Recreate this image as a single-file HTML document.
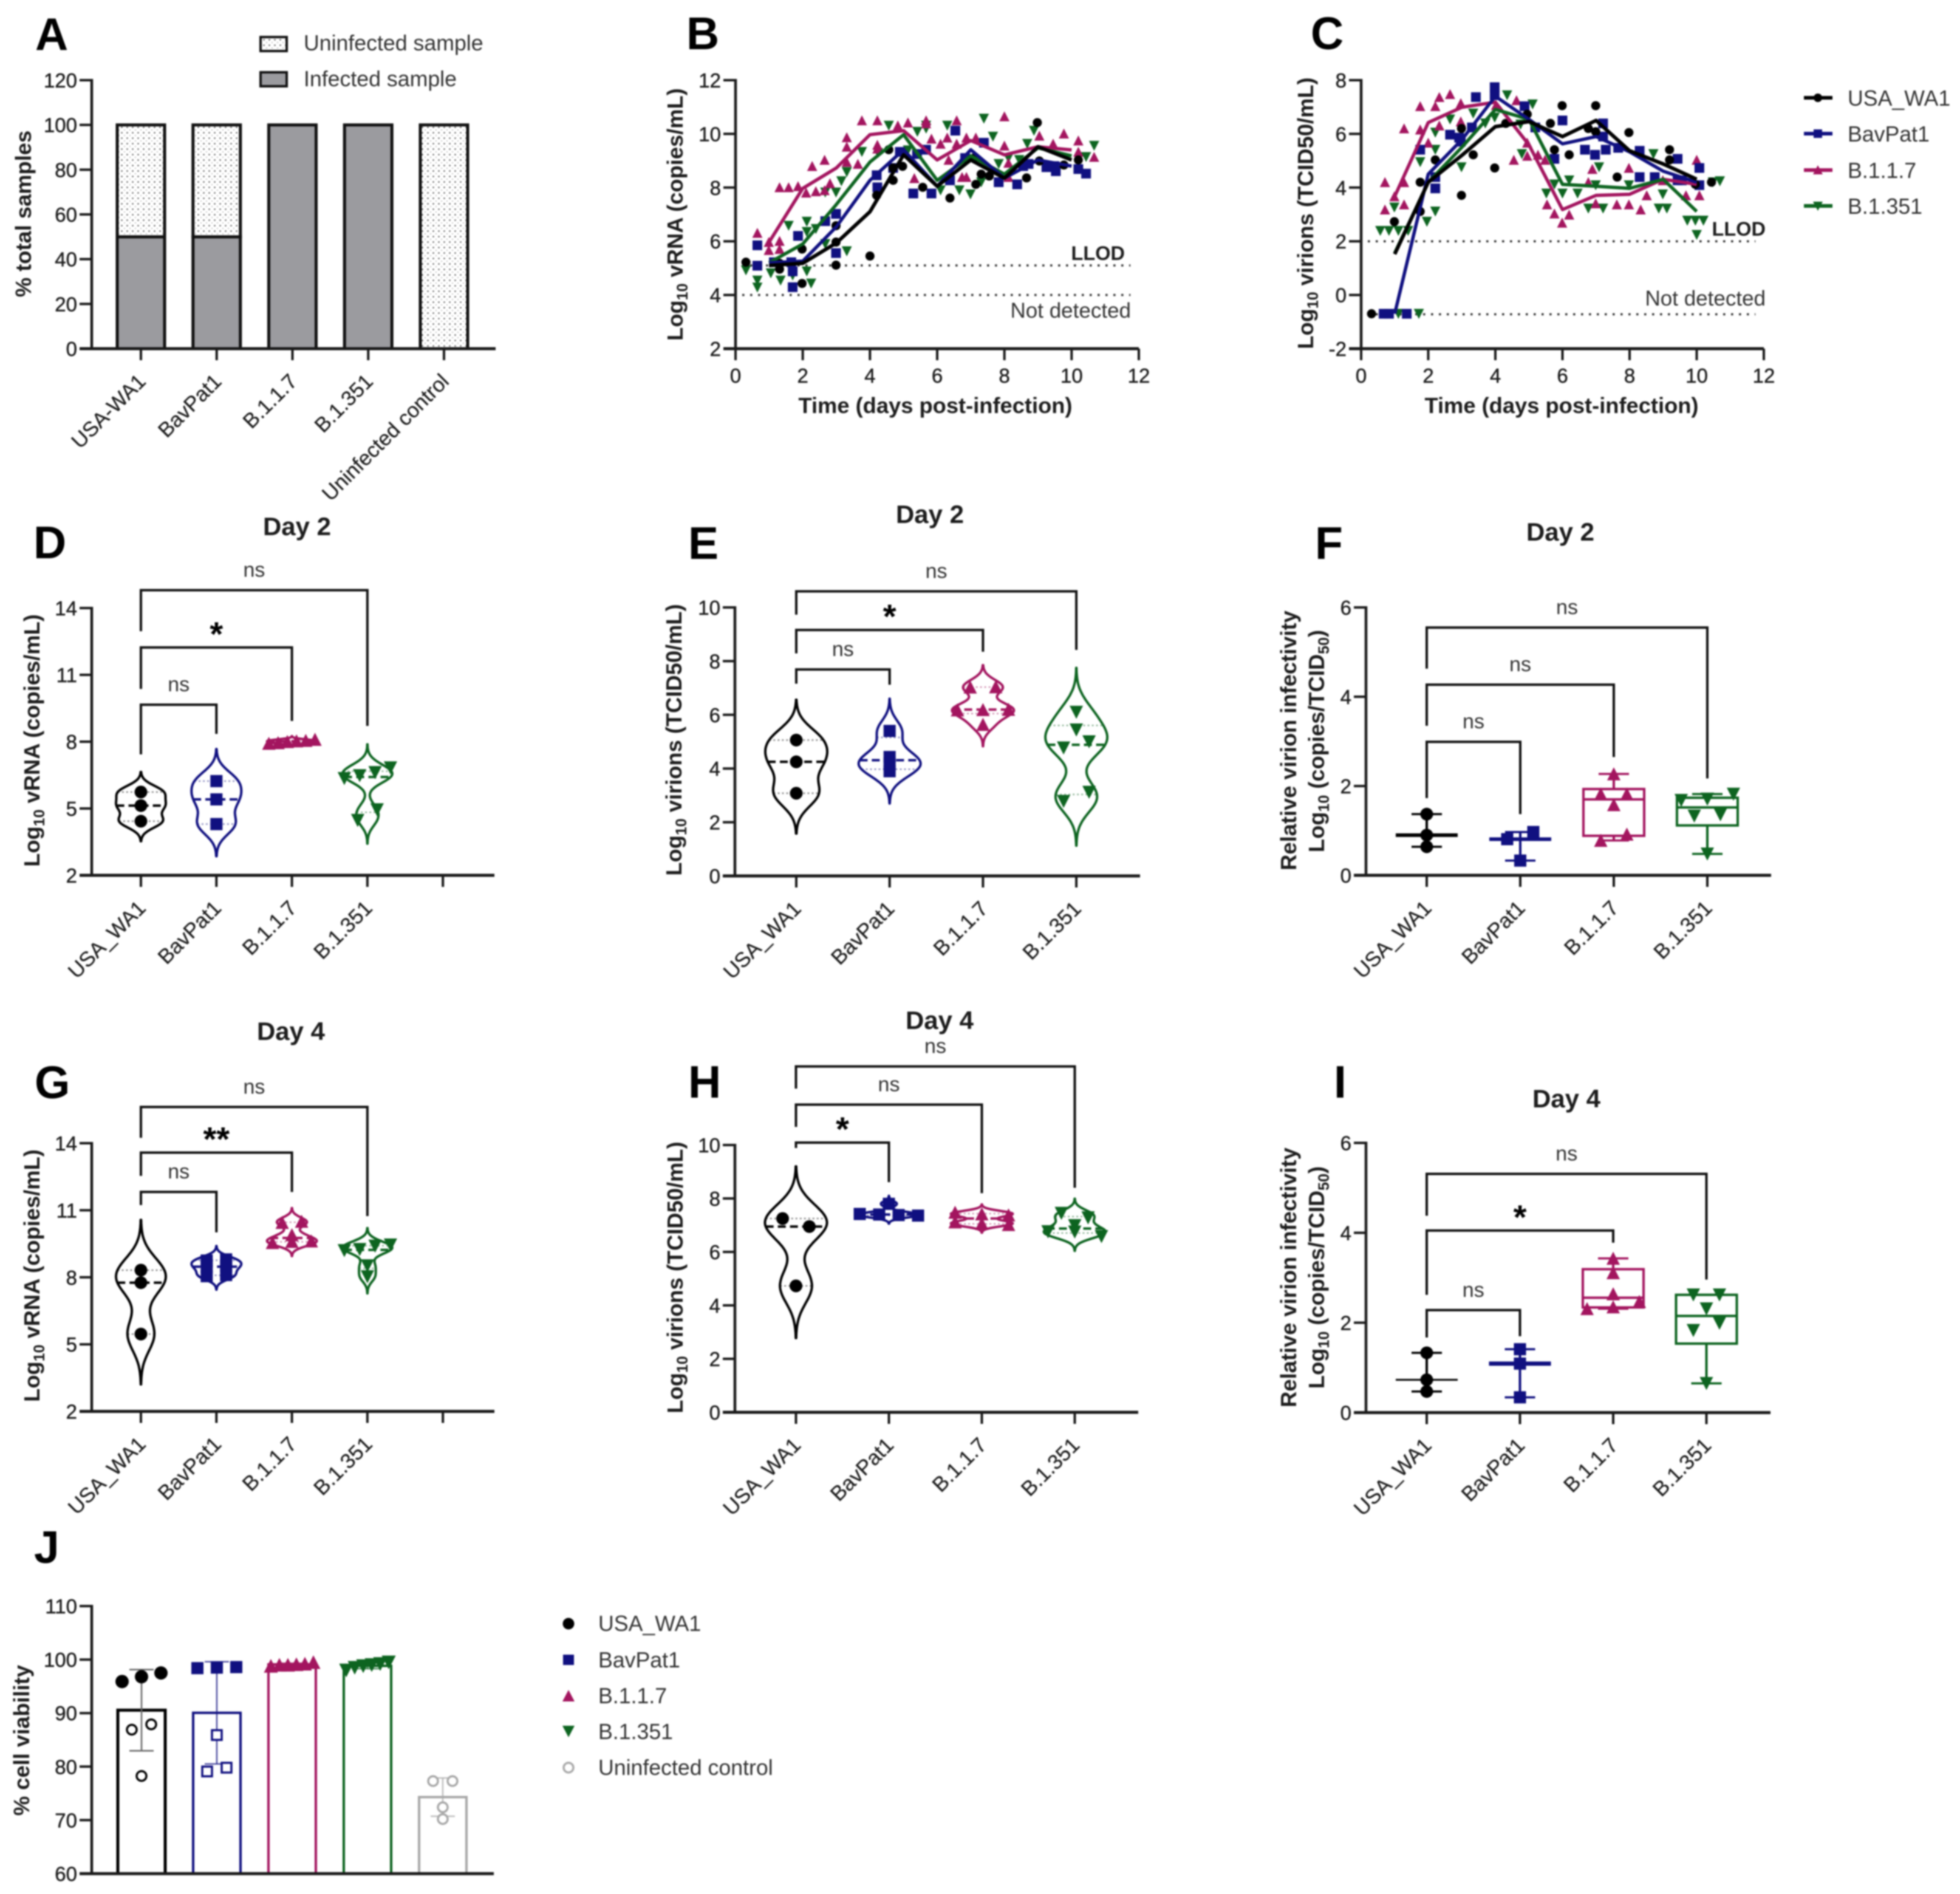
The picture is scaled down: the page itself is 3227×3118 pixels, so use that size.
<!DOCTYPE html>
<html lang="en">
<head>
<meta charset="utf-8">
<title>SARS-CoV-2 variant replication panels</title>
<style>
html,body{margin:0;padding:0;background:#fff;width:3227px;height:3118px;overflow:hidden}
svg{display:block;filter:blur(1.4px)}
text{font-family:"Liberation Sans",sans-serif;fill:#1c1c1c}
.letter{font-size:75px;font-weight:700;fill:#000}
.title{font-size:42px;font-weight:700;text-anchor:middle}
.axt{font-size:36.3px;font-weight:700;text-anchor:middle}
.leg{font-size:35.7px;fill:#333}
.tick{font-size:33px;stroke:#222;stroke-width:.5}
.cat{font-size:34.5px;text-anchor:end;stroke:#333;stroke-width:.3}
.note{font-size:35px;text-anchor:end;fill:#333}
.llod{font-size:32.5px;font-weight:700;text-anchor:end}
.ns{font-size:34px;text-anchor:middle;fill:#333}
.star{font-size:56px;font-weight:700;text-anchor:middle;fill:#000}
</style>
</head>
<body>
<svg id="figure" xmlns="http://www.w3.org/2000/svg" width="3227" height="3118" viewBox="0 0 3227 3118">
<defs>
<pattern id="dots" width="9" height="9" patternUnits="userSpaceOnUse"><rect width="9" height="9" fill="#fff"/><circle cx="2.5" cy="2.5" r="1.25" fill="#555"/><circle cx="7" cy="7" r="0.9" fill="#999"/></pattern>
</defs>
<rect width="3227" height="3118" fill="#fff"/>

<g id="panel-a">
<text class="letter" x="58" y="82">A</text>
<text class="axt" transform="translate(51,352) rotate(-90)">% total samples</text>
<rect x="429" y="61" width="43" height="23" fill="url(#dots)" stroke="#111" stroke-width="4"/>
<text class="leg" x="500" y="83">Uninfected sample</text>
<rect x="429" y="119" width="43" height="23" fill="#9b9b9f" stroke="#111" stroke-width="4"/>
<text class="leg" x="500" y="142">Infected sample</text>
</g>

<g id="panel-b">
<text class="letter" x="1130" y="81">B</text>
<text class="axt" transform="translate(1124,353) rotate(-90)">Log<tspan dy="8" font-size="25">10</tspan><tspan dy="-8"> vRNA (copies/mL)</tspan></text>
<text class="axt" x="1540" y="680">Time (days post-infection)</text>
<text class="llod" x="1852" y="428">LLOD</text>
<text class="note" x="1862" y="523">Not detected</text>
</g>

<g id="panel-c">
<text class="letter" x="2158" y="81">C</text>
<text class="axt" transform="translate(2162,351) rotate(-90)">Log<tspan dy="8" font-size="25">10</tspan><tspan dy="-8"> virions (TCID50/mL)</tspan></text>
<text class="axt" x="2571" y="680">Time (days post-infection)</text>
<text class="llod" x="2907" y="388">LLOD</text>
<text class="note" x="2907" y="503">Not detected</text>
<g>
<line x1="2970" x2="3017" y1="161" y2="161" stroke="#000" stroke-width="6"/>
<circle cx="2993" cy="161" r="7" fill="#000"/>
<text class="leg" x="3042" y="174">USA_WA1</text>
<line x1="2970" x2="3017" y1="220" y2="220" stroke="#101080" stroke-width="6"/>
<rect x="2986" y="213" width="14" height="14" fill="#101080"/>
<text class="leg" x="3042" y="233">BavPat1</text>
<line x1="2970" x2="3017" y1="280" y2="280" stroke="#a3155f" stroke-width="6"/>
<polygon points="2993,272 3001,287 2985,287" fill="#a3155f"/>
<text class="leg" x="3042" y="293">B.1.1.7</text>
<line x1="2970" x2="3017" y1="339" y2="339" stroke="#0d6420" stroke-width="6"/>
<polygon points="2993,347 3001,332 2985,332" fill="#0d6420"/>
<text class="leg" x="3042" y="352">B.1.351</text>
</g>
</g>

<g id="panel-d">
<text class="letter" x="55" y="919">D</text>
<text class="title" x="489" y="881">Day 2</text>
<text class="axt" transform="translate(65,1219) rotate(-90)">Log<tspan dy="8" font-size="25">10</tspan><tspan dy="-8"> vRNA (copies/mL)</tspan></text>
</g>
<g id="panel-e">
<text class="letter" x="1133" y="920">E</text>
<text class="title" x="1531" y="861">Day 2</text>
<text class="axt" transform="translate(1122,1218) rotate(-90)">Log<tspan dy="8" font-size="25">10</tspan><tspan dy="-8"> virions (TCID50/mL)</tspan></text>
</g>
<g id="panel-f">
<text class="letter" x="2165" y="920">F</text>
<text class="title" x="2569" y="890">Day 2</text>
<text class="axt" transform="translate(2134,1219) rotate(-90)">Relative virion infectivity</text>
<text class="axt" transform="translate(2180,1220) rotate(-90)">Log<tspan dy="8" font-size="25">10</tspan><tspan dy="-8"> (copies/TCID</tspan><tspan dy="8" font-size="25">50</tspan><tspan dy="-8">)</tspan></text>
</g>
<g id="panel-g">
<text class="letter" x="57" y="1808">G</text>
<text class="title" x="479" y="1712">Day 4</text>
<text class="axt" transform="translate(65,2100) rotate(-90)">Log<tspan dy="8" font-size="25">10</tspan><tspan dy="-8"> vRNA (copies/mL)</tspan></text>
</g>
<g id="panel-h">
<text class="letter" x="1133" y="1807">H</text>
<text class="title" x="1547" y="1694">Day 4</text>
<text class="axt" transform="translate(1124,2103) rotate(-90)">Log<tspan dy="8" font-size="25">10</tspan><tspan dy="-8"> virions (TCID50/mL)</tspan></text>
</g>
<g id="panel-i">
<text class="letter" x="2196" y="1807">I</text>
<text class="title" x="2579" y="1823">Day 4</text>
<text class="axt" transform="translate(2134,2103) rotate(-90)">Relative virion infectivity</text>
<text class="axt" transform="translate(2180,2103) rotate(-90)">Log<tspan dy="8" font-size="25">10</tspan><tspan dy="-8"> (copies/TCID</tspan><tspan dy="8" font-size="25">50</tspan><tspan dy="-8">)</tspan></text>
</g>
<g id="panel-j">
<text class="letter" x="56" y="2573">J</text>
<text class="axt" transform="translate(48,2865) rotate(-90)">% cell viability</text>
<g>
<circle cx="936" cy="2673" r="9.5" fill="#000"/>
<text class="leg" x="985" y="2685">USA_WA1</text>
<rect x="927" y="2724" width="18" height="17" fill="#101080"/>
<text class="leg" x="985" y="2745">BavPat1</text>
<polygon points="936,2782 946,2801 926,2801" fill="#a3155f"/>
<text class="leg" x="985" y="2804">B.1.1.7</text>
<polygon points="936,2860 946,2841 926,2841" fill="#0d6420"/>
<text class="leg" x="985" y="2863">B.1.351</text>
<circle cx="936" cy="2910" r="8" fill="#fff" stroke="#aaa" stroke-width="3.5"/>
<text class="leg" x="985" y="2922">Uninfected control</text>
</g>
</g>
</svg>

<script>
/* ---------- PANEL A DATA ---------- */
const aCategories = ['USA-WA1','BavPat1','B.1.1.7','B.1.351','Uninfected control'];
const aInfected = [50,50,100,100,0];
const aUninfected = [50,50,0,0,100];
const aYTicks = [0,20,40,60,80,100,120];

/* ---------- PANEL B DATA ([day, log10 value]) ---------- */
const timeDays = [1,2,3,4,5,6,7,8,9,10];
const timeTicks = [0,2,4,6,8,10,12];
const bYTicks = [2,4,6,8,10,12];
const bLlod = 5.1;
const bNotDetected = 4;
const bUsaMean = [5.1,5.18,5.94,7.1,9.22,8.05,9.03,8.35,9.52,9.03];
const bBavMean = [5.2,5.26,6.54,8.27,9.41,8.05,9.41,8.35,9.03,8.8];
const bB117Mean = [5.97,7.97,8.73,9.97,10.12,9.03,9.75,9.22,9.52,9.4];
const bB1351Mean = [5.2,5.9,7.37,8.95,9.97,8.27,9.18,8.5,9.48,9.18];
const bUsaPts = [[.31,5.22],[1.31,5.18],[1.98,5.71],[1.98,4.43],[1.31,4.96],[2.99,5.11],[2.99,5.97],[2.99,6.58],[4,5.45],[4.2,7.71],[4.69,8.27],[4.69,8.73],[4.97,8.79],[4.56,9.41],[5.57,8.01],[6.38,7.61],[7.1,9.1],[7.15,8.12],[7.31,8.5],[7.55,8.43],[8.66,8.36],[8.98,10.42],[9.04,8.99],[9.77,8.84],[10.2,9.03]];
const bBavPts = [[.65,5.09],[.65,5.85],[1.14,5.22],[1.86,6.2],[1.7,4.29],[1.7,4.88],[2.67,6.75],[2.99,7.02],[2.99,5.56],[4.2,8.46],[4.22,8.01],[4.69,8.73],[4.89,9.33],[5.29,7.78],[5.4,9.25],[5.67,9.41],[5.83,7.78],[6.38,8.27],[6.54,10.12],[6.83,9.1],[7.39,9.67],[7.83,8.2],[8.38,8.12],[8.56,8.8],[8.72,8.88],[9.25,8.76],[9.49,8.8],[9.53,8.61],[10.2,8.69],[10.43,8.52],[1.66,5.22]];
const bB117Pts = [[.65,6.31],[.99,5.97],[.99,5.67],[1.31,6.01],[1.31,5.71],[1.31,8.01],[1.58,8.01],[1.86,8.05],[2.1,7.81],[2.39,7.86],[2.65,7.9],[2.81,8.16],[2.28,8.8],[2.65,9.03],[3.31,9.87],[3.31,9.52],[3.31,8.95],[3.64,8.88],[3.76,10.5],[4.22,10.5],[4.22,9.59],[5.13,10.42],[4.83,10.31],[5.67,10.5],[5.67,10.39],[5.32,8.35],[5.83,9.82],[6.1,9.63],[6.3,9.86],[6.58,10.5],[6.58,9.63],[6.74,8.39],[6.87,8.39],[6.87,9.86],[7.15,9.86],[8,10.65],[8,9.56],[8.12,8.92],[9.04,9.93],[9.45,9.63],[9.77,10.01],[10.2,9.75],[10.2,9.33],[10.67,9.14],[8.12,8.39],[4.22,9.45],[6.34,9.03]];
const bB1351Pts = [[.31,4.92],[.65,4.54],[.65,4.28],[1.05,4.81],[1.34,4.54],[1.58,6.58],[1.7,4.73],[2.12,6.73],[2.12,6.35],[2.12,4.88],[2.39,6.46],[2.25,4.43],[2.67,5.9],[3.31,5.63],[2.67,7.82],[2.99,7.82],[3.15,8.24],[3.31,8.58],[3.76,9.33],[4.24,9.29],[4.56,10.31],[5.41,10.08],[5.67,10.2],[6.3,10.31],[7.39,10.57],[7.66,9.9],[6.1,7.9],[6.66,7.9],[6.99,7.75],[7.31,8.2],[7.83,8.88],[8.44,9.03],[8.68,9.63],[8.88,10.12],[10.67,9.56],[10.43,9.14],[8.12,9.1],[5.13,9.39],[5.67,10.31]];

/* ---------- PANEL C DATA ---------- */
const cYTicks = [-2,0,2,4,6,8];
const cLlod = 2;
const cNotDetected = -0.72;
const cUsaMean = [1.52,4.2,5.2,6.27,6.46,5.9,6.5,5.37,4.88,4.31];
const cBavMean = [-0.7,4.5,5.78,7.4,6.54,5.63,5.9,5.33,4.61,4.2];
const cB117Mean = [3.67,6.42,6.99,7.18,5.59,3.18,3.71,3.75,4.31,4.12];
const cB1351Mean = [1.56,4.2,5.5,6.91,6.54,4.12,4.05,3.97,4.31,3.11];
const cUsaPts = [[.31,-.7],[.99,2.73],[1.76,4.2],[1.76,3.11],[2.21,5.03],[2.99,3.71],[2.99,6.2],[3.34,5.22],[3.98,4.73],[4.31,6.39],[4.95,6.73],[5.64,6.39],[5.76,5.41],[5.99,7.05],[6.2,5.22],[6.77,6.2],[6.99,7.05],[6.99,6.08],[7.63,4.39],[7.98,6.05],[9.19,5.41],[9.19,5.03],[9.96,4.12],[10.44,4.2]];
const cBavPts = [[.67,-.7],[.83,-.7],[1.36,-.7],[1.76,5.41],[2.21,4.39],[2.21,3.97],[2.65,5.97],[2.92,5.86],[2.97,5.71],[3.3,6.24],[3.42,7.37],[3.98,7.74],[3.98,7.44],[4.87,7.03],[5.19,6.24],[5.76,5.07],[6,6.5],[6.67,5.41],[6.97,5.22],[7.21,6.39],[7.21,5.9],[7.29,5.41],[7.66,5.48],[8.3,5.37],[8.3,4.39],[8.75,4.39],[9.43,5.07],[9.43,4.27],[9.56,4.27],[10.08,4.73],[10.08,4.09]];
const cB117Pts = [[.71,4.2],[.99,3.67],[1.28,6.2],[1.28,4.2],[.71,3.18],[1.28,3.37],[1.76,7.03],[1.76,6.16],[2.21,7.03],[2.33,7.37],[2.65,7.48],[2.33,6.31],[2.97,7.14],[2.97,6.46],[2,5.67],[4.55,5.03],[4.95,5.67],[4.95,5.18],[5.27,5.22],[5.48,5.03],[5.54,3.37],[5.76,3.03],[5.99,2.69],[6.2,2.99],[6.77,4.2],[6.89,4.69],[6.99,3.41],[7.62,3.37],[7.98,4.73],[7.98,3.37],[8.33,3.18],[8.51,3.71],[9.68,3.71],[10,5.03],[10.08,3.71],[4.02,7.07],[4.63,7.25],[8.99,4.27]];
const cB1351Pts = [[.57,2.39],[.83,2.39],[1.11,2.39],[.99,3.26],[1.76,4.95],[1.96,2.73],[2.21,6.05],[2.21,5.41],[2.21,3.11],[1.4,2.39],[2.65,6.54],[2.99,4.76],[3.34,6.76],[3.7,6.39],[3.98,6.61],[4.35,7.44],[5.11,7.1],[4.75,6.35],[4.79,5.25],[5.52,3.78],[5.76,4.12],[6,3.78],[6.2,4.27],[6.45,3.78],[6.77,3.22],[6.99,4.09],[7.09,4.76],[7.21,3.22],[7.98,4.09],[8.71,5.25],[8.99,3.75],[8.87,3.22],[9.11,3.22],[9.72,2.77],[9.96,2.77],[10.2,2.77],[10,2.24],[10.48,4.2],[10.69,4.24],[1.11,-.7],[1.72,-.7]];

/* ---------- VIOLIN PANELS ---------- */
const strainCategories = ['USA_WA1','BavPat1','B.1.1.7','B.1.351'];
const dYTicks = [2,5,8,11,14];
const dUsa = [5.74,5.13,4.43];
const dBav = [6.23,5.41,4.3];
const dB117 = [8.1,8.05,7.95,8.0,7.92,8.03];
const dB1351 = [6.83,6.62,6.48,6.35,4.95,4.47];
const dBandwidth = [.3,.48,.05,.35];
const dSwarmTol = [.2,.2,.5,.5];
const dBrackets = [[0,3,14.8,12.96,8.71,'ns'],[0,2,12.23,10.37,8.93,'*'],[0,1,9.66,7.43,8.35,'ns']];

const eYTicks = [0,2,4,6,8,10];
const eUsa = [5.06,4.25,3.08];
const eBav = [5.4,4.43,4.19,3.9];
const eB117 = [7.04,7.03,6.19,6.2,6.18,5.64];
const eB1351 = [6.1,5.44,5.0,4.77,3.12,2.78];
const eBandwidth = [.5,.4,.27,.55];
const eSwarmTol = [.3,.1,.3,.35];
const eBrackets = [[0,3,10.6,9.73,8.42,'ns'],[0,2,9.16,8.29,8.35,'*'],[0,1,7.69,7.16,7.12,'ns']];

const gYTicks = [2,5,8,11,14];
const gUsa = [8.32,7.76,5.46];
const gBav = [8.8,8.75,8.5,8.45,8.1,8.05];
const gB117 = [10.5,10.45,9.9,9.62,9.6,9.55];
const gB1351 = [9.45,9.4,9.25,9.2,8.52,8.03];
const gBandwidth = [.75,.2,.2,.25];
const gSwarmTol = [.2,.1,.1,.3];
const gBrackets = [[0,3,15.62,14.24,10.74,'ns'],[0,2,13.58,12.54,11.82,'**'],[0,1,11.82,11.23,10.01,'ns']];

const hYTicks = [0,2,4,6,8,10];
const hUsa = [7.25,6.95,4.73];
const hBav = [7.8,7.42,7.4,7.38,7.36];
const hB117 = [7.48,7.42,7.38,7.12,7.06,7.02];
const hB1351 = [7.45,7.28,6.99,6.76,6.75,6.58];
const hBandwidth = [.65,.1,.1,.18];
const hSwarmTol = [.35,.1,.15,.2];
const hBrackets = [[0,3,12.94,12.11,8.4,'ns'],[0,2,11.51,10.68,8.2,'ns'],[0,1,10.09,9.89,8.61,'*']];

/* ---------- BOX PANELS ---------- */
const fYTicks = [0,2,4,6];
const fUsa = [1.37,.9,.64];
const fBav = [.97,.81,.33];
const fB117 = [2.27,1.82,1.82,1.58,.92,.78];
const fB1351 = [1.82,1.71,1.68,1.36,1.33,.48];
const fBrackets = [[0,3,5.55,4.63,2.17,'ns'],[0,2,4.27,3.35,2.65,'ns'],[0,1,2.99,1.73,1.37,'ns']];

const iYTicks = [0,2,4,6];
const iUsa = [1.33,.73,.47];
const iBav = [1.41,1.09,.34];
const iB117 = [3.43,3.11,2.64,2.47,2.35,2.31];
const iB1351 = [2.62,2.62,2.31,1.99,1.83,.65];
const iBrackets = [[0,3,5.31,4.38,2.96,'ns'],[0,2,4.05,2.62,3.78,'*'],[0,1,2.28,1.67,1.7,'ns']];

/* ---------- PANEL J DATA ---------- */
const jYTicks = [60,70,80,90,100,110];
const jUsa = [96.8,95.9,97.5,87.9,86.9,78.25];
const jBav = [98.6,98.5,98.4,85.9,79.1,79.8];
const jB117 = [99.2,99.5,99,98.8,99,99.1];
const jB1351 = [99.5,99.2,98.5,98,99,98.8];
const jUninfected = [77.3,77.3,72.4,70.2];

/* ---------- STYLES & LAYOUT ---------- */
const strainStyle = [
  {color:'#000000',shape:'circle'},
  {color:'#101080',shape:'square'},
  {color:'#a3155f',shape:'up'},
  {color:'#0d6420',shape:'down'},
  {color:'#a8a8a8',shape:'circle'}
];
const pA = {id:'panel-a',x0:151,xEnd:816,py0:574,py1:132,vmin:0,vmax:120,cat0:232,catStep:124.75};
const pB = {id:'panel-b',x0:1211,xEnd:1875,py0:574,py1:132,vmin:2,vmax:12,dmin:0,dmax:12};
const pC = {id:'panel-c',x0:2241,xEnd:2904,py0:574,py1:132,vmin:-2,vmax:8,dmin:0,dmax:12};
const pD = {id:'panel-d',x0:151,xEnd:814,py0:1441,py1:1001,vmin:2,vmax:14,cat0:232,catStep:124.3,half:41,base:32,dir:1};
const pE = {id:'panel-e',x0:1210,xEnd:1877,py0:1442,py1:1000,vmin:0,vmax:10,cat0:1311,catStep:153.7,half:51,base:42,dir:1};
const pF = {id:'panel-f',x0:2249,xEnd:2916,py0:1441,py1:1000,vmin:0,vmax:6,cat0:2349,catStep:154,half:50,base:43,dir:1};
const pG = {id:'panel-g',x0:151,xEnd:814,py0:2323.5,py1:1882,vmin:2,vmax:14,cat0:232,catStep:124.3,half:41,base:32,dir:1};
const pH = {id:'panel-h',x0:1210,xEnd:1874,py0:2325,py1:1885,vmin:0,vmax:10,cat0:1310.5,catStep:153,half:51,base:44,dir:-1};
const pI = {id:'panel-i',x0:2249,xEnd:2915,py0:2325.5,py1:1881.5,vmin:0,vmax:6,cat0:2349,catStep:153.5,half:50,base:43,dir:1};
const pJ = {id:'panel-j',x0:151,xEnd:813,py0:3084.5,py1:2644,vmin:60,vmax:110,cat0:233,catStep:124,half:41,base:32,dir:1};

const NS = 'http://www.w3.org/2000/svg';
const axisColor = '#1a1a1a';

function node(parent, tag, attrs, txt){
  const e = document.createElementNS(NS, tag);
  for (const k in attrs) e.setAttribute(k, attrs[k]);
  if (txt !== undefined) e.textContent = txt;
  parent.appendChild(e);
  return e;
}
function yScale(p){ return v => p.py0 - (v - p.vmin) * (p.py0 - p.py1) / (p.vmax - p.vmin); }
function dayScale(p){ return d => p.x0 + (d - p.dmin) * (p.xEnd - p.x0) / (p.dmax - p.dmin); }
function catX(p, i){ return p.cat0 + i * p.catStep; }
function panelGroup(p){ return document.getElementById(p.id); }

function drawYAxis(p, ticks){
  const g = panelGroup(p), y = yScale(p);
  const yLine = node(g,'line',{x1:p.x0,x2:p.x0,y1:p.py1-2,y2:p.py0,stroke:axisColor,'stroke-width':4.5});
  
  
  const xLine = node(g,'line',{x1:p.x0-20,x2:p.xEnd,y1:p.py0,y2:p.py0,stroke:axisColor,'stroke-width':5});
  
  
  ticks.forEach(t => {
    const tk = node(g,'line',{x1:p.x0-20,x2:p.x0,y1:y(t),y2:y(t),stroke:axisColor,'stroke-width':4});
    
    
    const lb = node(g,'text',{class:'tick',x:p.x0-24,y:y(t)+12,'text-anchor':'end'},String(t));
    
    
  });
}
function drawCatAxis(p, labels, tickCount){
  const g = panelGroup(p);
  for (let i = 0; i < tickCount; i++){
    const x = catX(p,i);
    const tk = node(g,'line',{x1:x,x2:x,y1:p.py0,y2:p.py0+19,stroke:axisColor,'stroke-width':4});
    
    
    if (i < labels.length){
      const lb = node(g,'text',{class:'cat',transform:`translate(${x+10},${p.py0+56}) rotate(-45)`},labels[i]);
      
      
    }
  }
}
function drawDayAxis(p, ticks){
  const g = panelGroup(p), x = dayScale(p);
  ticks.forEach(t => {
    const tk = node(g,'line',{x1:x(t),x2:x(t),y1:p.py0,y2:p.py0+19,stroke:axisColor,'stroke-width':4});
    
    
    const lb = node(g,'text',{class:'tick',x:x(t),y:p.py0+56,'text-anchor':'middle'},String(t));
    
    
  });
}
function marker(parent, shape, cx, cy, s, fill, stroke, sw){
  const paint = {fill:fill, stroke:stroke||'none', 'stroke-width':sw||0};
  const h = s/2;
  if (shape === 'circle') return node(parent,'circle',Object.assign({cx:cx,cy:cy,r:h},paint));
  if (shape === 'square') return node(parent,'rect',Object.assign({x:cx-h,y:cy-h,width:s,height:s},paint));
  if (shape === 'up') return node(parent,'polygon',Object.assign({points:`${cx},${cy-h*1.05} ${cx+h*1.05},${cy+h} ${cx-h*1.05},${cy+h}`},paint));
  return node(parent,'polygon',Object.assign({points:`${cx},${cy+h*1.05} ${cx+h*1.05},${cy-h} ${cx-h*1.05},${cy-h}`},paint));
}
function swarmOffsets(values, tol, base, half, dir){
  const order = values.map((v,i)=>[v,i]).sort((a,b)=>a[0]-b[0]);
  const out = new Array(values.length).fill(0);
  let k = 0;
  while (k < order.length){
    let m = k + 1;
    while (m < order.length && order[m][0] - order[k][0] <= tol) m++;
    const n = m - k;
    const step = n > 1 ? Math.min(base, 2*(half-3)/(n-1)) : 0;
    for (let j = k; j < m; j++) out[order[j][1]] = dir * (j - k - (n-1)/2) * step;
    k = m;
  }
  return out;
}
function quantile(values, q){
  const s = values.slice().sort((a,b)=>a-b);
  const pos = (s.length + 1) * q;
  const i = Math.floor(pos);
  const lo = s[Math.max(i-1,0)], hi = s[Math.min(i,s.length-1)];
  return lo + (hi - lo) * (pos - i);
}
function density(values, h, v){
  return values.reduce((sum,p)=>sum + Math.exp(-0.5*((v-p)/h)*((v-p)/h)),0);
}
function drawBrackets(p, list){
  const g = panelGroup(p), y = yScale(p);
  list.forEach(b => {
    const xl = catX(p,b[0]), xr = catX(p,b[1]);
    const path = node(g,'path',{d:`M${xl} ${y(b[3])}V${y(b[2])}H${xr}V${y(b[4])}`,fill:'none',stroke:'#111','stroke-width':4});
    
    
    const isStar = b[5] !== 'ns';
    const lb = node(g,'text',{class:isStar?'star':'ns',x:(xl+xr)/2,y:y(b[2])+(isStar?-3:-22)},b[5]);
    
    
  });
}
function drawViolin(p, idx, values, bw, tol){
  const g = panelGroup(p), y = yScale(p), cx = catX(p,idx), st = strainStyle[idx];
  const lo = Math.min(...values) - 3*bw, hi = Math.max(...values) + 3*bw;
  const steps = 90;
  let peak = 0;
  for (let i = 0; i <= steps; i++) peak = Math.max(peak, density(values,bw,lo+(hi-lo)*i/steps));
  const width = v => density(values,bw,v)/peak*p.half;
  let d = '';
  for (let i = 0; i <= steps; i++){ const v = lo+(hi-lo)*i/steps; d += (i?'L':'M')+(cx-width(v)).toFixed(1)+' '+y(v).toFixed(1); }
  for (let i = steps; i >= 0; i--){ const v = lo+(hi-lo)*i/steps; d += 'L'+(cx+width(v)).toFixed(1)+' '+y(v).toFixed(1); }
  const outline = node(g,'path',{d:d+'Z',fill:'#fff',stroke:st.color,'stroke-width':4,'stroke-linejoin':'round'});
  
  
  [0.25,0.75].forEach(q => {
    const v = quantile(values,q), w = width(v);
    const ql = node(g,'line',{x1:cx-w,x2:cx+w,y1:y(v),y2:y(v),stroke:st.color,'stroke-width':2.5,'stroke-dasharray':'3 4',opacity:.45});
    
    
  });
  const med = quantile(values,0.5), mw = width(med);
  const ml = node(g,'line',{x1:cx-mw,x2:cx+mw,y1:y(med),y2:y(med),stroke:st.color,'stroke-width':4,'stroke-dasharray':'13 7'});
  
  
  const off = swarmOffsets(values,tol,p.base,p.half,p.dir);
  values.forEach((v,i) => {
    const dot = marker(g,st.shape,cx+off[i],y(v),st.shape==='square'?20:21,st.color);
    
    
  });
}
function drawBox(p, idx, values, tol, medianWidth){
  const g = panelGroup(p), y = yScale(p), cx = catX(p,idx), st = strainStyle[idx];
  const lo = Math.min(...values), hi = Math.max(...values);
  const q1 = quantile(values,.25), q2 = quantile(values,.5), q3 = quantile(values,.75);
  const wh = node(g,'line',{x1:cx,x2:cx,y1:y(hi),y2:y(lo),stroke:st.color,'stroke-width':4});
  
  
  [lo,hi].forEach(v => {
    const cap = node(g,'line',{x1:cx-25,x2:cx+25,y1:y(v),y2:y(v),stroke:st.color,'stroke-width':3.5});
    
    
  });
  if (values.length > 3){
    const box = node(g,'rect',{x:cx-50,y:y(q3),width:100,height:y(q1)-y(q3),fill:'#fff',stroke:st.color,'stroke-width':4});
    
    
  }
  const ml = node(g,'line',{x1:cx-51,x2:cx+51,y1:y(q2),y2:y(q2),stroke:st.color,'stroke-width':medianWidth});
  
  
  const off = swarmOffsets(values,tol,p.base,p.half,p.dir);
  values.forEach((v,i) => {
    const dot = marker(g,st.shape,cx+off[i],y(v),st.shape==='square'?20:21,st.color);
    
    
  });
}
function drawTimeCourse(p, pointSets, meanSets, llod, notDetected){
  const g = panelGroup(p), x = dayScale(p), y = yScale(p);
  [llod,notDetected].forEach(v => {
    const dl = node(g,'line',{x1:x(0.2),x2:x(11.75),y1:y(v),y2:y(v),stroke:'#333','stroke-width':3.5,'stroke-dasharray':'3.5 9.5'});
    
    
  });
  [3,2,1,0].forEach(s => {
    const st = strainStyle[s];
    pointSets[s].forEach(pt => {
      const dot = marker(g,st.shape,x(pt[0]),y(pt[1]),st.shape==='circle'?15:16,st.color);
      
      
    });
  });
  [2,3,1,0].forEach(s => {
    const st = strainStyle[s];
    const pts = meanSets[s].map((v,i)=>x(timeDays[i]).toFixed(1)+','+y(v).toFixed(1)).join(' ');
    const ln = node(g,'polyline',{points:pts,fill:'none',stroke:st.color,'stroke-width':s===0?6:5.5,'stroke-linejoin':'round'});
    
    
  });
}
function drawStacked(p){
  const g = panelGroup(p), y = yScale(p);
  aCategories.forEach((c,i) => {
    const cx = catX(p,i);
    if (aInfected[i] > 0){
      const r = node(g,'rect',{x:cx-39,y:y(aInfected[i]),width:78,height:y(0)-y(aInfected[i]),fill:'#9b9b9f',stroke:'#111','stroke-width':5});
      
      
    }
    if (aUninfected[i] > 0){
      const top = aInfected[i] + aUninfected[i];
      const r = node(g,'rect',{x:cx-39,y:y(top),width:78,height:y(aInfected[i])-y(top),fill:'url(#dots)',stroke:'#111','stroke-width':5});
      
      
    }
  });
}
function drawViability(p, groups){
  const g = panelGroup(p), y = yScale(p);
  groups.forEach((vals,i) => {
    const st = strainStyle[i], cx = catX(p,i);
    const mean = vals.reduce((a,b)=>a+b,0)/vals.length;
    const sd = Math.sqrt(vals.reduce((a,b)=>a+(b-mean)*(b-mean),0)/(vals.length-1));
    const bar = node(g,'path',{d:`M${cx-39} ${y(p.vmin)}V${y(mean)}H${cx+39}V${y(p.vmin)}`,fill:'#fff',stroke:st.color,'stroke-width':i===0?5:4});
    
    
    const capTop = Math.min(mean+sd, 110), capBot = mean-sd;
    const err = node(g,'line',{x1:cx,x2:cx,y1:y(capTop),y2:y(capBot),stroke:i===0?'#666':st.color,'stroke-width':2.5,opacity:i===0?1:.7});
    
    
    [capTop,capBot].forEach(v => {
      const cap = node(g,'line',{x1:cx-20,x2:cx+20,y1:y(v),y2:y(v),stroke:i===0?'#666':st.color,'stroke-width':2.5,opacity:i===0?1:.7});
      
      
    });
    const spacing = vals.length > 3 && sd < 2 ? 14 : p.base;
    const off = swarmOffsets(vals,2,spacing,p.half,p.dir);
    vals.forEach((v,k) => {
      const open = mean - v > 1.2 || i === 4;
      const s = st.shape==='square' ? (open?16:20) : (open?16:22);
      const dot = open ? marker(g,st.shape,cx+off[k],y(v),s,'#fff',st.color,3.5)
                       : marker(g,st.shape,cx+off[k],y(v),s,st.color);
      
      
    });
  });
}

/* ---------- RENDER ---------- */
drawStacked(pA);
drawYAxis(pA,aYTicks);
drawCatAxis(pA,aCategories,5);

drawTimeCourse(pB,[bUsaPts,bBavPts,bB117Pts,bB1351Pts],[bUsaMean,bBavMean,bB117Mean,bB1351Mean],bLlod,bNotDetected);
drawYAxis(pB,bYTicks);
drawDayAxis(pB,timeTicks);

drawTimeCourse(pC,[cUsaPts,cBavPts,cB117Pts,cB1351Pts],[cUsaMean,cBavMean,cB117Mean,cB1351Mean],cLlod,cNotDetected);
drawYAxis(pC,cYTicks);
drawDayAxis(pC,timeTicks);

[dUsa,dBav,dB117,dB1351].forEach((v,i)=>drawViolin(pD,i,v,dBandwidth[i],dSwarmTol[i]));
drawYAxis(pD,dYTicks);
drawCatAxis(pD,strainCategories,5);
drawBrackets(pD,dBrackets);

[eUsa,eBav,eB117,eB1351].forEach((v,i)=>drawViolin(pE,i,v,eBandwidth[i],eSwarmTol[i]));
drawYAxis(pE,eYTicks);
drawCatAxis(pE,strainCategories,4);
drawBrackets(pE,eBrackets);

[fUsa,fBav,fB117,fB1351].forEach((v,i)=>drawBox(pF,i,v,.2,i<2?6:4));
drawYAxis(pF,fYTicks);
drawCatAxis(pF,strainCategories,4);
drawBrackets(pF,fBrackets);

[gUsa,gBav,gB117,gB1351].forEach((v,i)=>drawViolin(pG,i,v,gBandwidth[i],gSwarmTol[i]));
drawYAxis(pG,gYTicks);
drawCatAxis(pG,strainCategories,5);
drawBrackets(pG,gBrackets);

[hUsa,hBav,hB117,hB1351].forEach((v,i)=>drawViolin(pH,i,v,hBandwidth[i],hSwarmTol[i]));
drawYAxis(pH,hYTicks);
drawCatAxis(pH,strainCategories,4);
drawBrackets(pH,hBrackets);

[iUsa,iBav,iB117,iB1351].forEach((v,i)=>drawBox(pI,i,v,.2,i===0?3:(i===1?7:4)));
drawYAxis(pI,iYTicks);
drawCatAxis(pI,strainCategories,4);
drawBrackets(pI,iBrackets);

drawViability(pJ,[jUsa,jBav,jB117,jB1351,jUninfected]);
drawYAxis(pJ,jYTicks);
</script>
</body>
</html>
